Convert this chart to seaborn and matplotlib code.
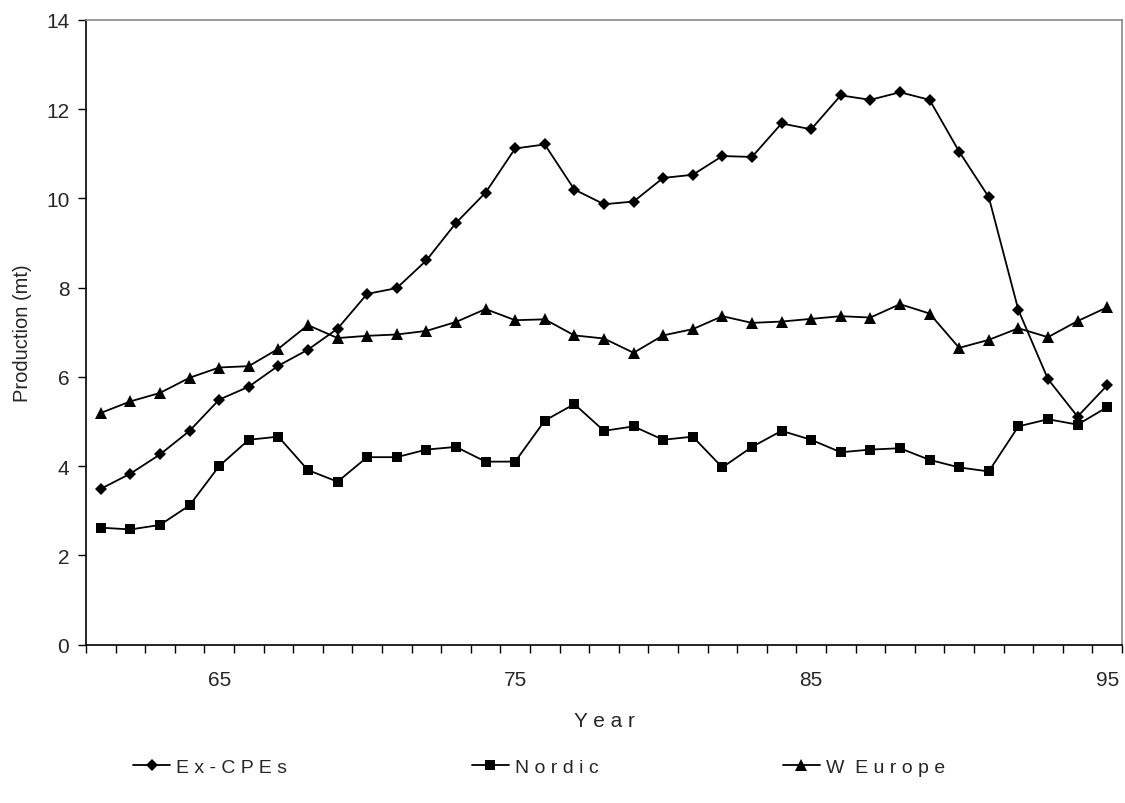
import numpy as np
import pandas as pd
import matplotlib
matplotlib.use("Agg")
import matplotlib.pyplot as plt
import seaborn as sns
from matplotlib.ticker import FixedLocator

years = list(range(61, 96))
ex_cpes = [3.49, 3.83, 4.26, 4.79, 5.49, 5.78, 6.25, 6.61, 7.08, 7.86, 7.99, 8.61,
           9.45, 10.13, 11.12, 11.21, 10.20, 9.87, 9.93, 10.46, 10.53, 10.95, 10.93,
           11.68, 11.55, 12.31, 12.21, 12.38, 12.21, 11.05, 10.03, 7.50, 5.95, 5.11, 5.81]
nordic = [2.62, 2.58, 2.68, 3.12, 4.00, 4.59, 4.66, 3.91, 3.65, 4.20, 4.20, 4.37,
          4.43, 4.10, 4.10, 5.02, 5.39, 4.79, 4.89, 4.59, 4.66, 3.97, 4.43,
          4.79, 4.59, 4.31, 4.37, 4.40, 4.14, 3.97, 3.88, 4.89, 5.05, 4.93, 5.32]
w_europe = [5.19, 5.45, 5.64, 5.98, 6.21, 6.24, 6.63, 7.16, 6.87, 6.92, 6.95, 7.03,
            7.23, 7.52, 7.27, 7.29, 6.93, 6.86, 6.54, 6.93, 7.07, 7.36, 7.21,
            7.24, 7.30, 7.36, 7.33, 7.63, 7.42, 6.65, 6.83, 7.09, 6.89, 7.25, 7.56]
series_names = ["Ex-CPEs", "Nordic", "W Europe"]
y_ticks = [0, 2, 4, 6, 8, 10, 12, 14]
x_tick_labels = [65, 75, 85, 95]

df = pd.DataFrame({
    "Year": years * 3,
    "Production": ex_cpes + nordic + w_europe,
    "Series": [series_names[0]] * len(years) + [series_names[1]] * len(years) + [series_names[2]] * len(years),
})

sns.set_style("white")
plt.rcParams['font.family'] = ['Liberation Sans', 'DejaVu Sans']

fig = plt.figure(figsize=(11.25, 8.04), dpi=100)
ax = fig.add_axes([0.0764, 0.1971, 0.9209, 0.7768])

markers = {"Ex-CPEs": "D", "Nordic": "s", "W Europe": "^"}
sizes = {"Ex-CPEs": 6.5, "Nordic": 7.5, "W Europe": 8.5}
for name in series_names:
    sub = df[df["Series"] == name]
    sns.lineplot(data=sub, x="Year", y="Production", ax=ax, color="black",
                 marker=markers[name], markersize=sizes[name], markeredgewidth=0,
                 linewidth=1.3, label=name, legend=False)

ax.set_xlim(60.5, 95.5)
ax.set_ylim(0, 14)
ax.xaxis.set_major_locator(FixedLocator(x_tick_labels))
ax.xaxis.set_minor_locator(FixedLocator(np.arange(60.5, 96, 1)))
ax.set_xticklabels([str(v) for v in x_tick_labels])
ax.tick_params(axis="x", which="major", length=0, pad=18, labelsize=15)
ax.tick_params(axis="x", which="minor", length=6, width=1, color="black", direction="out", bottom=True)
ax.set_yticks(y_ticks)
ax.tick_params(axis="y", which="major", length=6, width=1, color="black", direction="out", left=True, labelsize=15, pad=6)

for s in ["left", "bottom"]:
    ax.spines[s].set_color("black")
    ax.spines[s].set_linewidth(1.2)
for s in ["top", "right"]:
    ax.spines[s].set_color("#888888")
    ax.spines[s].set_linewidth(1.2)

ax.set_xlabel("Y e a r", fontsize=15, labelpad=16)
ax.set_ylabel("Production (mt)", fontsize=14.5, labelpad=10)

lines = ax.get_lines()
leg = fig.legend(lines[:3], ["E x - C P E s", "N o r d i c", "W  E u r o p e"],
                 loc="center left", bbox_to_anchor=(0.103, 0.045), ncol=3, frameon=False,
                 fontsize=14, handlelength=1.9, handletextpad=0.3, columnspacing=9.5)

fig.savefig("out.png", dpi=100)
